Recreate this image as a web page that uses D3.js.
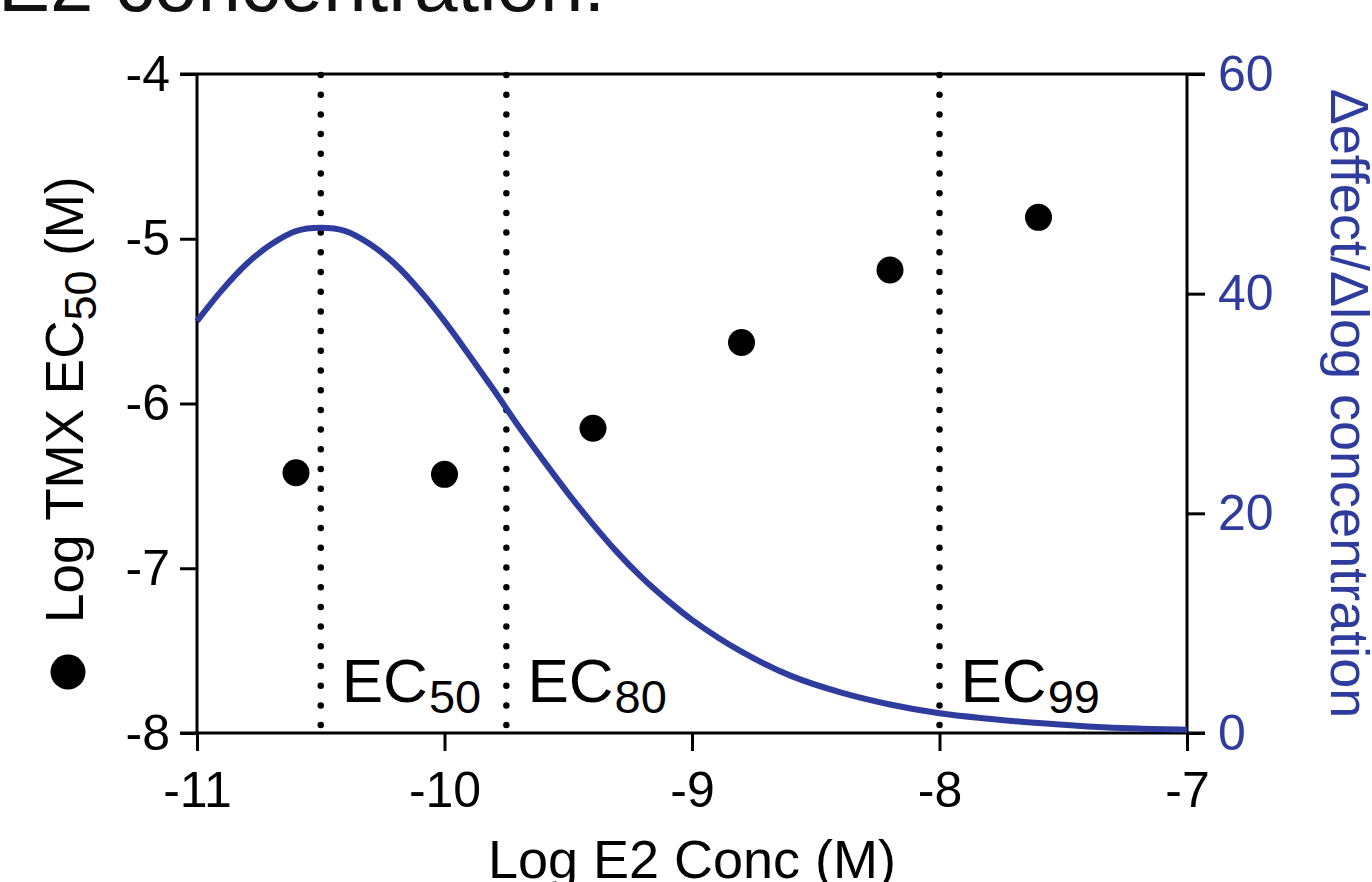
<!DOCTYPE html>
<html>
<head>
<meta charset="utf-8">
<script src="https://cdn.jsdelivr.net/npm/d3@7"></script>
<style>
  html, body { margin: 0; padding: 0; background: #fff; }
  svg { display: block; }
  text { font-family: "Liberation Sans", Arial, Helvetica, sans-serif; }
</style>
</head>
<body>
<svg id="chart" width="1372" height="882"></svg>
<script>
// ---- data ----
const e2LogConc   = [-10.6, -10.0, -9.4, -8.8, -8.2, -7.6];
const tmxLogEC50  = [-6.42, -6.43, -6.15, -5.63, -5.19, -4.87];

const curveX = [-11, -10.9, -10.8, -10.7, -10.6, -10.5, -10.4, -10.3, -10.2, -10.1, -10.0,
                -9.9, -9.8, -9.7, -9.6, -9.5, -9.4, -9.3, -9.2, -9.1, -9.0,
                -8.8, -8.6, -8.4, -8.2, -8.0, -7.8, -7.6, -7.4, -7.2, -7.0];
const curveY = [37.5, 40.3, 42.7, 44.5, 45.7, 46.0, 45.7, 44.5, 42.7, 40.3, 37.5,
                34.4, 31.2, 27.9, 24.8, 21.8, 19.0, 16.4, 14.1, 12.1, 10.3,
                7.4, 5.2, 3.7, 2.6, 1.8, 1.3, 0.9, 0.6, 0.4, 0.3];

const ecPositions = [-10.5, -9.75, -8.0];
const ecLabels    = ["50", "80", "99"];

const xTicks  = [-11, -10, -9, -8, -7];
const yLTicks = [-4, -5, -6, -7, -8];
const yRTicks = [0, 20, 40, 60];

// ---- layout ----
const BLUE = "#2e3d9d";
const svg = d3.select("#chart");
const pL = 197, pR = 1187, pT = 74, pB = 733;

const x  = d3.scaleLinear().domain([-11, -7]).range([pL, pR]);
const yL = d3.scaleLinear().domain([-8, -4]).range([pB, pT]);
const yR = d3.scaleLinear().domain([0, 60]).range([pB, pT]);

// cut-off title at very top
svg.append("text")
  .attr("x", -2).attr("y", 11)
  .attr("font-size", 78)
  .attr("fill", "#111")
  .text("E2 concentration:");

// frame lines
const frame = svg.append("g").attr("stroke", "#000").attr("stroke-width", 3).attr("fill", "none");
frame.append("line").attr("x1", pL - 17).attr("x2", pR + 18).attr("y1", yL(-4)).attr("y2", yL(-4));
frame.append("line").attr("x1", pL - 17).attr("x2", pR + 18).attr("y1", yL(-8)).attr("y2", yL(-8));
frame.append("line").attr("x1", pL).attr("x2", pL).attr("y1", pT).attr("y2", pB);
frame.append("line").attr("x1", pR).attr("x2", pR).attr("y1", pT).attr("y2", pB);

// axes
function styleAxis(g, color) {
  g.select(".domain").remove();
  g.selectAll(".tick line").attr("stroke", "#000").attr("stroke-width", 3);
  g.selectAll(".tick text")
    .attr("font-size", 50)
    .attr("fill", color)
    .style("font-family", '"Liberation Sans", Arial, Helvetica, sans-serif');
}

svg.append("g").attr("transform", `translate(${pL},0)`)
  .call(d3.axisLeft(yL).tickValues(yLTicks).tickSize(17).tickPadding(10).tickFormat(d => String(d)))
  .call(g => styleAxis(g, "#000"));

svg.append("g").attr("transform", `translate(${pR},0)`)
  .call(d3.axisRight(yR).tickValues(yRTicks).tickSize(18).tickPadding(13).tickFormat(d => String(d)))
  .call(g => styleAxis(g, BLUE));

svg.append("g").attr("transform", `translate(0,${pB})`)
  .call(d3.axisBottom(x).tickValues(xTicks).tickSize(18).tickPadding(20).tickFormat(d => String(d)))
  .call(g => styleAxis(g, "#000"));

// EC dotted lines
svg.append("g").selectAll("line").data(ecPositions).join("line")
  .attr("x1", d => x(d)).attr("x2", d => x(d))
  .attr("y1", pT + 1).attr("y2", pB)
  .attr("stroke", "#000").attr("stroke-width", 6.5)
  .attr("stroke-linecap", "round")
  .attr("stroke-dasharray", "0 19.7");

// EC labels
ecPositions.forEach((p, i) => {
  const t = svg.append("text")
    .attr("x", x(p) + 21).attr("y", 702)
    .attr("font-size", 62).attr("fill", "#000")
    .text("EC");
  const w = t.node().getComputedTextLength();
  svg.append("text")
    .attr("x", x(p) + 21 + w + 1).attr("y", 713)
    .attr("font-size", 47).attr("fill", "#000")
    .text(ecLabels[i]);
});

// curve
const line = d3.line()
  .x((d, i) => x(curveX[i]))
  .y(d => yR(d))
  .curve(d3.curveCatmullRom.alpha(0.5));
svg.append("path")
  .datum(curveY)
  .attr("d", line)
  .attr("fill", "none")
  .attr("stroke", BLUE)
  .attr("stroke-width", 6)
  .attr("stroke-linejoin", "round");

// data points
svg.append("g").selectAll("circle").data(e2LogConc).join("circle")
  .attr("cx", d => x(d))
  .attr("cy", (d, i) => yL(tmxLogEC50[i]))
  .attr("r", 13.5)
  .attr("fill", "#000");

// left axis title
svg.append("circle").attr("cx", 68).attr("cy", 672).attr("r", 17.5).attr("fill", "#000");
const lt = svg.append("text")
  .attr("transform", "translate(83,623) rotate(-90)")
  .attr("font-size", 53).attr("fill", "#000");
lt.append("tspan").text("Log TMX EC");
lt.append("tspan").attr("font-size", 45).attr("dy", 13).text("50");
lt.append("tspan").attr("dy", -13).text(" (M)");

// right axis title
svg.append("text")
  .attr("transform", `translate(1331,${(pT + pB) / 2}) rotate(90)`)
  .attr("text-anchor", "middle")
  .attr("font-size", 54).attr("fill", BLUE)
  .text("Δeffect/Δlog concentration");

// x axis title
svg.append("text")
  .attr("x", (pL + pR) / 2).attr("y", 878)
  .attr("text-anchor", "middle")
  .attr("font-size", 54).attr("fill", "#000")
  .text("Log E2 Conc (M)");
</script>
</body>
</html>
